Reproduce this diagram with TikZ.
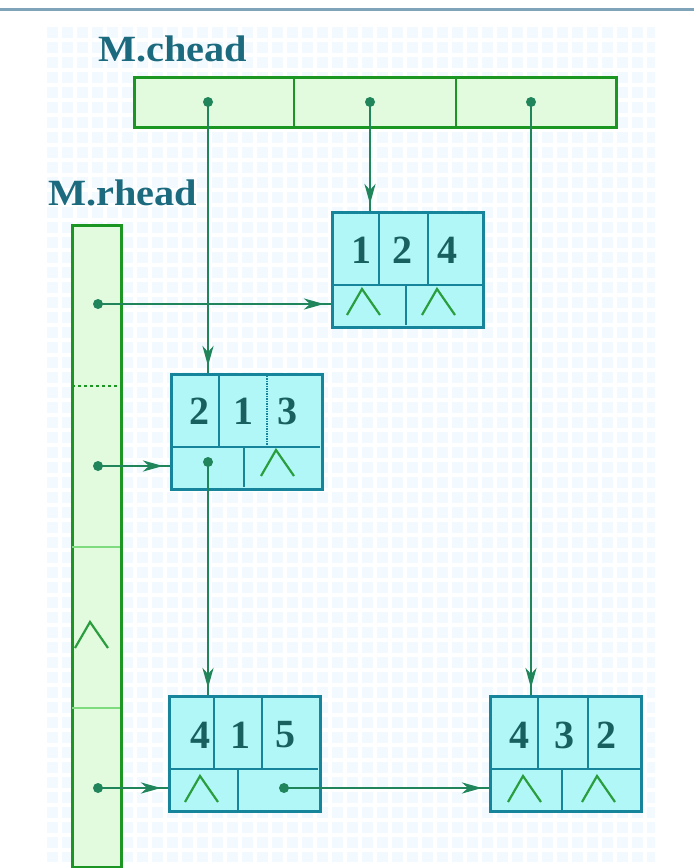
\documentclass[tikz,border=0pt]{standalone}
\usepackage{fontspec}
\setmainfont{Liberation Serif}
\usetikzlibrary{arrows.meta,decorations.markings}
\definecolor{nodefill}{HTML}{B2F7F7}
\definecolor{nodeline}{HTML}{16849A}
\definecolor{headfill}{HTML}{E2FADE}
\definecolor{headline}{HTML}{1C9622}
\definecolor{headsep}{HTML}{7EDC7E}
\definecolor{lbl}{HTML}{1C6A7E}
\definecolor{digit}{HTML}{186060}
\definecolor{arr}{HTML}{20855A}
\definecolor{nullc}{HTML}{2A9E3E}
\definecolor{gridc}{HTML}{F2F9FF}
\definecolor{topline}{HTML}{7FA3B8}
\tikzset{
  tri/.style={draw=nodeline, fill=nodefill, line width=3pt, minimum width=151pt, minimum height=115pt, inner sep=0pt, anchor=north west},
  sep/.style={draw=nodeline, line width=1.5pt},
  headbox/.style={draw=headline, fill=headfill, line width=3.2pt, inner sep=0pt, anchor=north west},
  hsep/.style={draw=headline, line width=1.4pt},
  dig/.style={text=digit, font=\bfseries\fontsize{40}{40}\selectfont, inner sep=0pt},
  lab/.style={text=lbl, font=\bfseries\fontsize{37}{37}\selectfont, inner sep=0pt, anchor=base west, xscale=1.09},
  conn/.style={draw=arr, color=arr, line width=2.6pt, postaction={decorate},
    decoration={markings, mark=at position -7pt with {\arrow{Stealth[length=20pt,width=11pt,inset=6pt]}}}},
  nul/.pic={\draw[nullc, line width=2.2pt] (-16,13) -- (-1,-13) -- (17,13);}
}
\begin{document}
\begin{tikzpicture}[x=1pt,y=-1pt]
\useasboundingbox (0,0) rectangle (694,868);
\fill[white] (0,0) rectangle (694,868);
% background grid
\fill[gridc] (45,25) rectangle (655,862);
\foreach \x in {45,60,...,655} \draw[white,line width=3.5pt] (\x,25) -- (\x,862);
\foreach \y in {25,40,...,862} \draw[white,line width=3.5pt] (45,\y) -- (655,\y);
\draw[topline, line width=3pt] (0,9) -- (694,9);

% labels
\node[lab] (lc) at (98,61) {M.chead};
\node[lab] (lr) at (48,205) {M.rhead};

% column head bar
\node[headbox, minimum width=482pt, minimum height=50pt] (chead) at (133,76) {};
\draw[hsep] (294,76) -- (294,126);
\draw[hsep] (456,76) -- (456,126);
\coordinate (c1) at (208,102);
\coordinate (c2) at (370,102);
\coordinate (c3) at (531,102);

% row head bar
\node[headbox, minimum width=49pt, minimum height=642pt] (rhead) at (71,224) {};
\draw[headline, line width=1.3pt, dashed] (72,386) -- (120,386);
\draw[headsep, line width=1.5pt] (72,547) -- (120,547);
\draw[headsep, line width=1.5pt] (72,708) -- (120,708);
\coordinate (r1) at (98,304);
\coordinate (r2) at (98,466);
\coordinate (r4) at (98,788);
\pic at (91,635) {nul};

% node (1,2,4)
\node[tri] (n124) at (331,211) {};
\draw[sep] (331,285) -- (482,285);
\draw[sep] (379,211) -- (379,285);
\draw[sep] (428,211) -- (428,285);
\draw[sep] (406,285) -- (406,325);
\node[dig] (t124a) at (361,250) {1};
\node[dig] (t124b) at (402,250) {2};
\node[dig] (t124c) at (447,250) {4};
\pic at (363,302) {nul};
\pic at (438,302) {nul};

% node (2,1,3)
\node[tri] (n213) at (170,373) {};
\draw[sep] (170,447) -- (320,447);
\draw[sep] (219,373) -- (219,447);
\draw[sep, densely dotted] (267,373) -- (267,447);
\draw[sep] (244,447) -- (244,487);
\node[dig] (t213a) at (199,411) {2};
\node[dig] (t213b) at (243,411) {1};
\node[dig] (t213c) at (287,411) {3};
\coordinate (d213) at (208,462);
\pic at (277,463) {nul};

% node (4,1,5)
\node[tri] (n415) at (168,695) {};
\draw[sep] (168,769) -- (318,769);
\draw[sep] (214,695) -- (214,769);
\draw[sep] (262,695) -- (262,769);
\draw[sep] (238,769) -- (238,810);
\node[dig] (t415a) at (200,735) {4};
\node[dig] (t415b) at (240,735) {1};
\node[dig] (t415c) at (285,735) {5};
\coordinate (d415) at (284,788);
\pic at (201,789) {nul};

% node (4,3,2)
\node[tri] (n432) at (489,695) {};
\draw[sep] (489,769) -- (640,769);
\draw[sep] (538,695) -- (538,769);
\draw[sep] (588,695) -- (588,769);
\draw[sep] (562,769) -- (562,810);
\node[dig] (t432a) at (519,735) {4};
\node[dig] (t432b) at (564,735) {3};
\node[dig] (t432c) at (606,735) {2};
\pic at (524,789) {nul};
\pic at (598,789) {nul};

% connectors
\draw[conn] (c1) -- (c1 |- n213.north);
\draw[conn] (c2) -- (c2 |- n124.north);
\draw[conn] (c3) -- (c3 |- n432.north);
\draw[conn] (r1) -- (r1 -| n124.west);
\draw[conn] (r2) -- (r2 -| n213.west);
\draw[conn] (r4) -- (r4 -| n415.west);
\draw[conn] (d213) -- (d213 |- n415.north);
\draw[conn] (d415) -- (d415 -| n432.west);
\foreach \p in {c1,c2,c3,r1,r2,r4,d213,d415} \fill[arr] (\p) circle (5pt);
\end{tikzpicture}
\end{document}
